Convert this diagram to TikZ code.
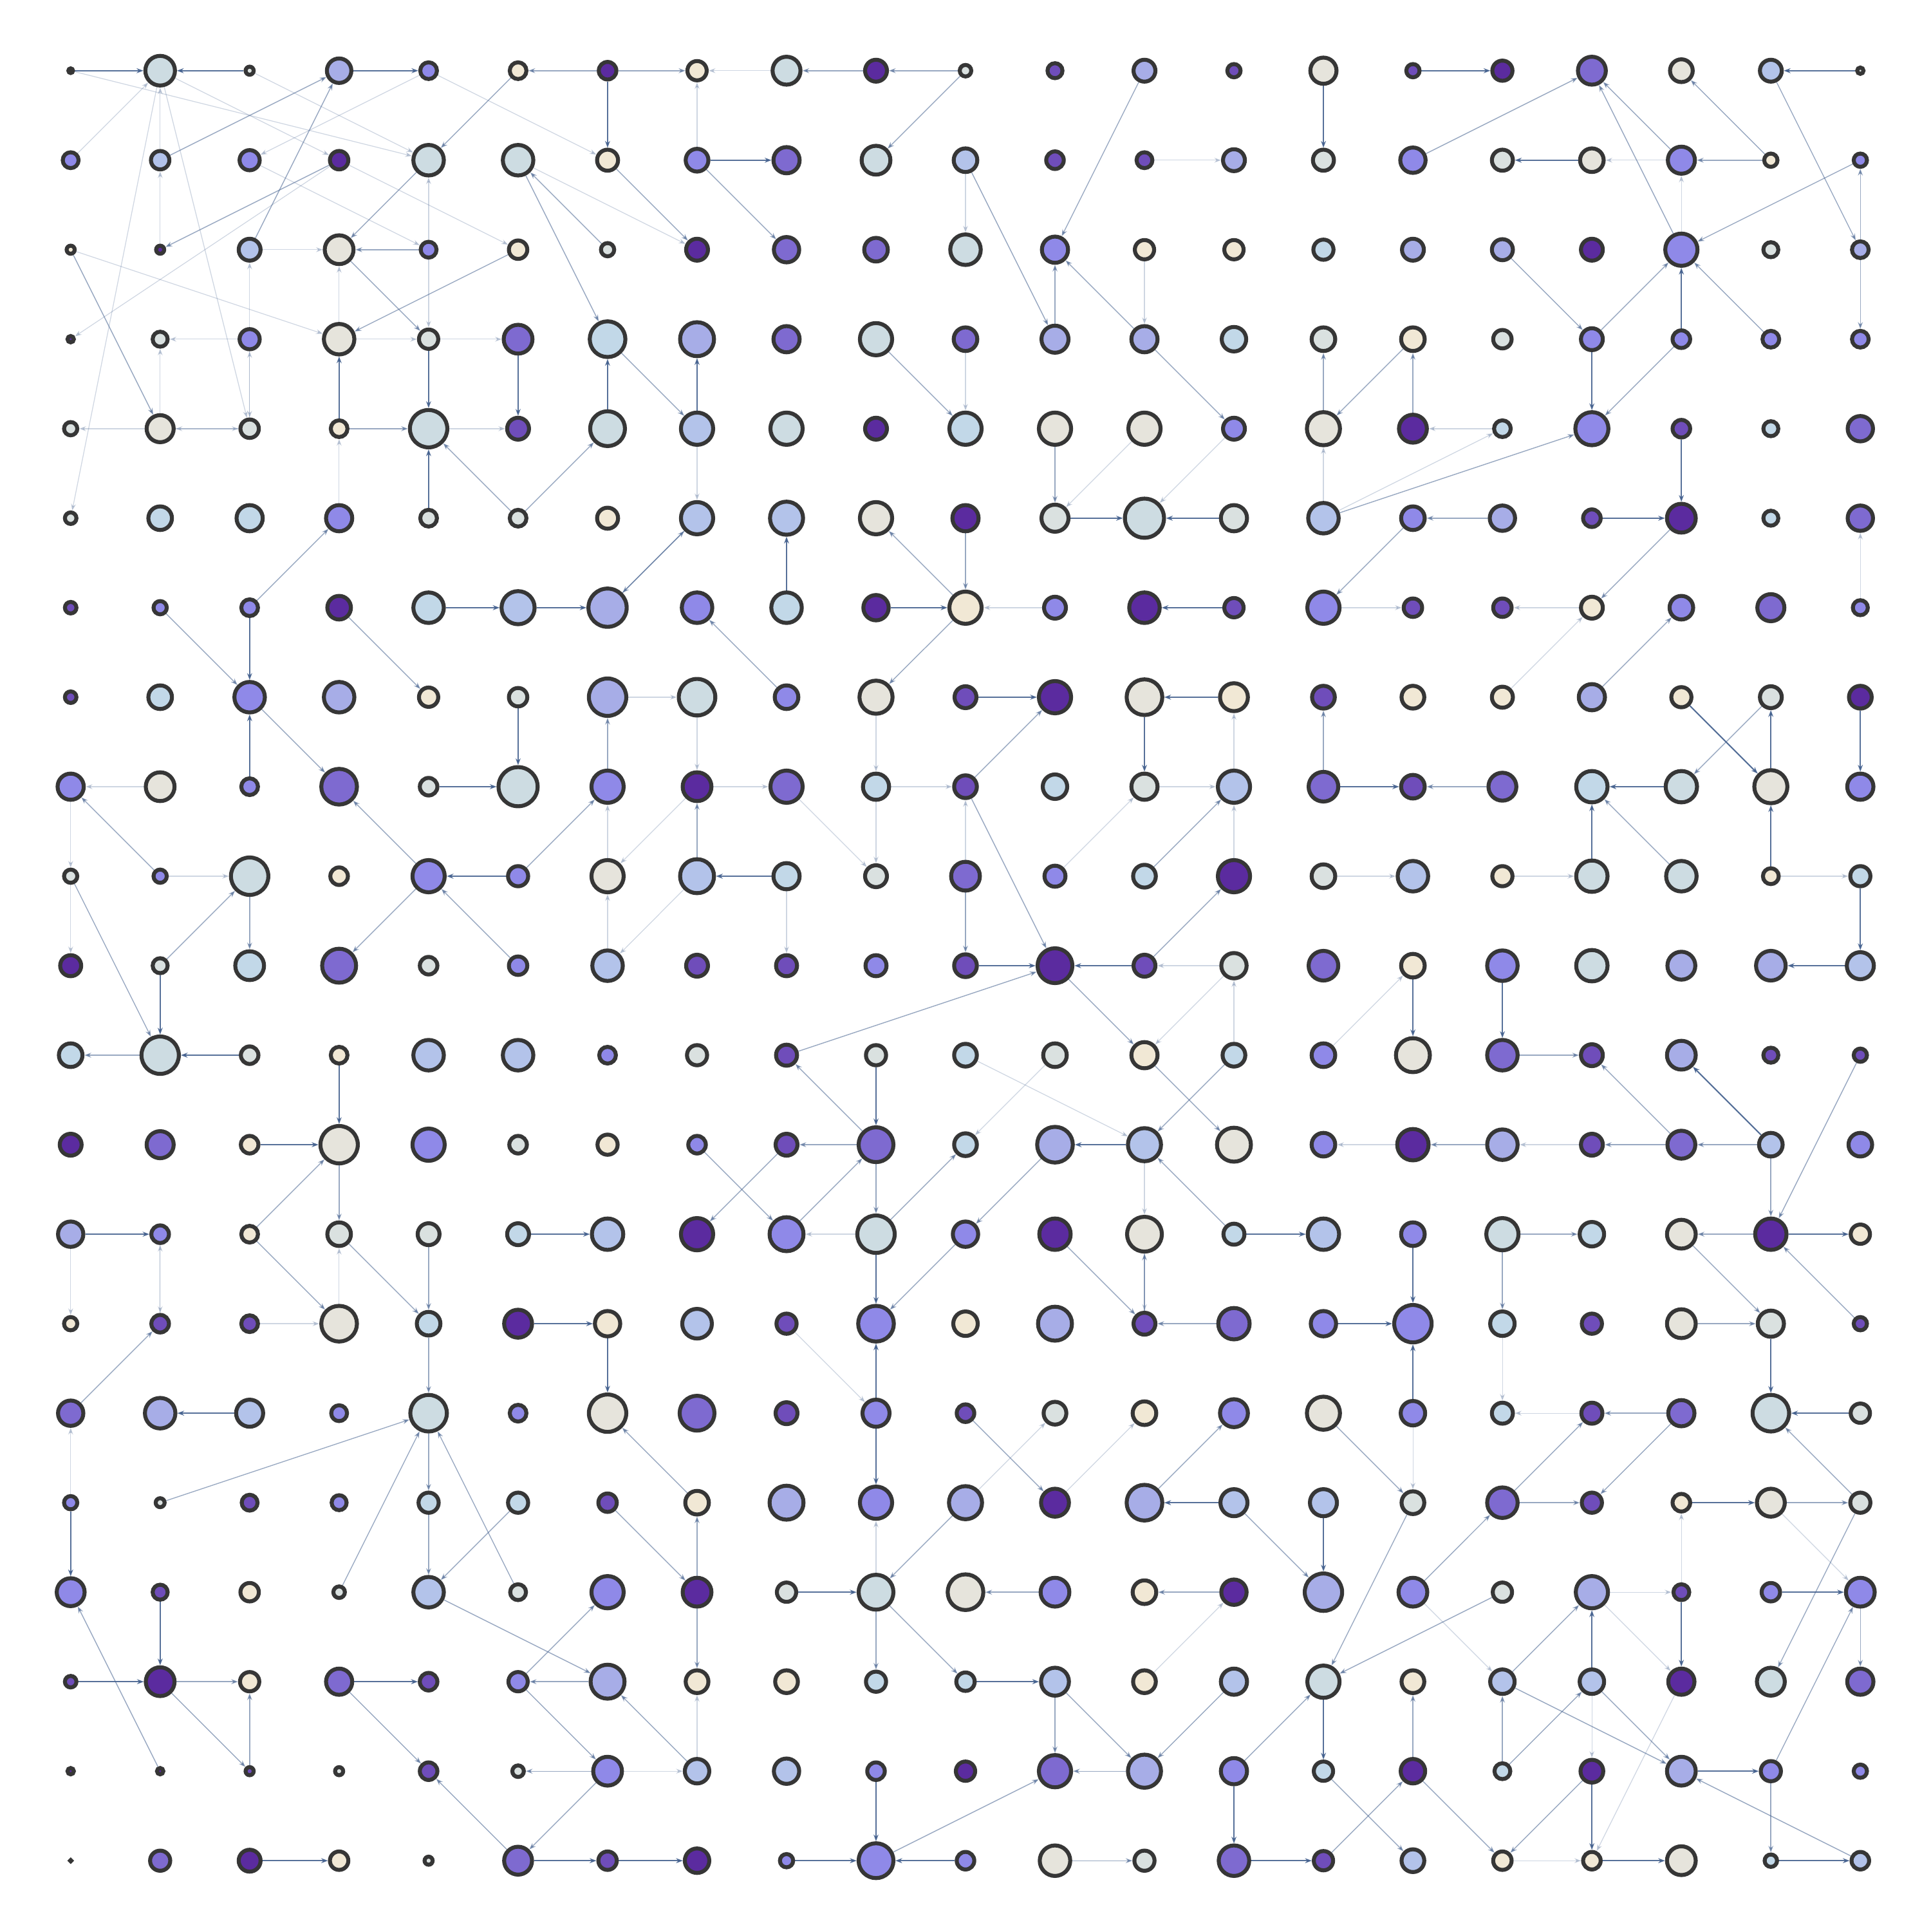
\documentclass[tikz,border=0pt]{standalone}
\usetikzlibrary{arrows.meta,backgrounds}
\definecolor{cD}{HTML}{5B2B9F}
\definecolor{cV}{HTML}{6F4DBA}
\definecolor{cM}{HTML}{7E6AD0}
\definecolor{cP}{HTML}{8F89E8}
\definecolor{cL}{HTML}{A7ADE7}
\definecolor{cK}{HTML}{B3C3EA}
\definecolor{cS}{HTML}{C2D8E8}
\definecolor{cG}{HTML}{CDDCE2}
\definecolor{cW}{HTML}{DAE1E0}
\definecolor{cE}{HTML}{E6E4DC}
\definecolor{cC}{HTML}{F1E8D5}
\definecolor{rimc}{HTML}{363636}
\definecolor{edgec}{HTML}{44618F}
\begin{document}
\begin{tikzpicture}[x=1cm,y=1cm,>={Stealth[length=3pt,width=2.2pt]},
  dot/.style={circle,draw=rimc,line width=1.75pt,inner sep=0pt},
  ed/.style={->,draw=edgec,line width=0.6pt,opacity=0.9},
  em/.style={->,draw=edgec,line width=0.4pt,opacity=0.55},
  ef/.style={->,draw=edgec,line width=0.35pt,opacity=0.26}]
\useasboundingbox (0,0) rectangle (30,-30.01);
\foreach \c/\r [count=\i from 0] in {D/10,G/39,W/14,L/33,P/24,C/24,D/25,C/27,G/37,D/30,W/18,V/22,L/30,V/20,E/35,V/20,D/28,M/37,E/31,K/30,W/12}
  \node[dot,fill=c\c,minimum size={\r*0.13393mm-0.62mm}] (n-\i-0) at ({1.098+1.3902*\i},{-1.098-1.3902*0}) {};
\foreach \c/\r [count=\i from 0] in {P/23,K/26,P/28,D/26,G/40,G/40,C/29,P/31,M/35,G/38,K/32,V/25,V/23,L/30,W/29,P/34,W/29,E/32,P/36,C/20,P/20}
  \node[dot,fill=c\c,minimum size={\r*0.13393mm-0.62mm}] (n-\i-1) at ({1.098+1.3902*\i},{-1.098-1.3902*1}) {};
\foreach \c/\r [count=\i from 0] in {C/14,D/14,K/30,E/38,P/23,C/26,W/20,D/30,M/34,M/32,G/40,P/35,C/27,C/27,S/28,L/30,L/29,D/30,P/42,W/22,L/24}
  \node[dot,fill=c\c,minimum size={\r*0.13393mm-0.62mm}] (n-\i-2) at ({1.098+1.3902*\i},{-1.098-1.3902*2}) {};
\foreach \c/\r [count=\i from 0] in {D/12,W/22,P/28,E/40,W/27,M/38,S/46,L/44,M/35,G/42,M/32,L/36,L/35,S/33,W/32,C/32,W/26,P/30,P/25,P/24,P/24}
  \node[dot,fill=c\c,minimum size={\r*0.13393mm-0.62mm}] (n-\i-3) at ({1.098+1.3902*\i},{-1.098-1.3902*3}) {};
\foreach \c/\r [count=\i from 0] in {W/20,E/36,W/26,C/24,G/48,V/30,G/45,K/42,G/42,D/30,S/42,E/42,E/42,P/30,E/43,D/37,S/24,P/43,V/25,S/22,M/34}
  \node[dot,fill=c\c,minimum size={\r*0.13393mm-0.62mm}] (n-\i-4) at ({1.098+1.3902*\i},{-1.098-1.3902*4}) {};
\foreach \c/\r [count=\i from 0] in {W/18,S/32,S/35,P/35,W/24,W/24,C/29,K/42,K/43,E/42,D/35,W/36,G/50,W/35,K/40,P/32,L/34,V/25,D/38,S/22,M/34}
  \node[dot,fill=c\c,minimum size={\r*0.13393mm-0.62mm}] (n-\i-5) at ({1.098+1.3902*\i},{-1.098-1.3902*5}) {};
\foreach \c/\r [count=\i from 0] in {V/18,P/20,P/24,D/32,S/40,K/43,L/49,P/40,S/40,D/34,C/42,P/30,D/40,V/27,P/42,V/26,V/26,C/30,P/32,M/36,P/22}
  \node[dot,fill=c\c,minimum size={\r*0.13393mm-0.62mm}] (n-\i-6) at ({1.098+1.3902*\i},{-1.098-1.3902*6}) {};
\foreach \c/\r [count=\i from 0] in {V/18,S/32,P/40,L/40,C/27,W/26,L/48,G/47,P/32,E/43,V/30,D/42,E/46,C/37,V/31,C/31,C/29,L/35,C/28,W/30,D/31}
  \node[dot,fill=c\c,minimum size={\r*0.13393mm-0.62mm}] (n-\i-7) at ({1.098+1.3902*\i},{-1.098-1.3902*7}) {};
\foreach \c/\r [count=\i from 0] in {P/35,E/38,P/24,M/46,W/25,G/50,P/42,D/38,M/42,S/35,V/31,S/33,W/35,K/42,M/39,V/32,M/37,S/41,G/41,E/43,P/35}
  \node[dot,fill=c\c,minimum size={\r*0.13393mm-0.62mm}] (n-\i-8) at ({1.098+1.3902*\i},{-1.098-1.3902*8}) {};
\foreach \c/\r [count=\i from 0] in {W/20,P/20,G/48,C/25,P/42,P/28,E/42,K/44,S/35,W/30,M/38,P/29,S/31,D/42,W/32,K/40,C/28,G/41,G/40,C/23,S/28}
  \node[dot,fill=c\c,minimum size={\r*0.13393mm-0.62mm}] (n-\i-9) at ({1.098+1.3902*\i},{-1.098-1.3902*9}) {};
\foreach \c/\r [count=\i from 0] in {D/29,W/22,S/38,M/44,W/25,P/26,K/40,V/30,V/29,P/29,V/31,D/45,V/30,W/34,M/39,C/32,P/40,G/41,L/37,L/39,K/36}
  \node[dot,fill=c\c,minimum size={\r*0.13393mm-0.62mm}] (n-\i-10) at ({1.098+1.3902*\i},{-1.098-1.3902*10}) {};
\foreach \c/\r [count=\i from 0] in {S/32,G/48,W/25,C/24,K/40,K/40,P/24,W/28,V/29,W/28,S/31,W/32,C/35,S/31,P/32,E/44,M/40,V/30,L/38,V/22,V/20}
  \node[dot,fill=c\c,minimum size={\r*0.13393mm-0.62mm}] (n-\i-11) at ({1.098+1.3902*\i},{-1.098-1.3902*11}) {};
\foreach \c/\r [count=\i from 0] in {D/30,M/36,C/25,E/48,P/42,W/25,C/28,P/25,V/30,M/45,S/31,L/46,K/43,E/44,P/32,D/41,L/40,V/30,M/37,K/32,P/32}
  \node[dot,fill=c\c,minimum size={\r*0.13393mm-0.62mm}] (n-\i-12) at ({1.098+1.3902*\i},{-1.098-1.3902*12}) {};
\foreach \c/\r [count=\i from 0] in {L/34,P/25,C/24,W/32,W/30,S/30,K/41,D/42,P/44,G/48,P/34,D/41,E/45,S/29,K/41,P/32,G/42,S/33,E/38,D/41,C/27}
  \node[dot,fill=c\c,minimum size={\r*0.13393mm-0.62mm}] (n-\i-13) at ({1.098+1.3902*\i},{-1.098-1.3902*13}) {};
\foreach \c/\r [count=\i from 0] in {C/20,V/25,V/24,E/46,S/32,D/37,C/34,K/39,V/28,P/46,C/33,L/44,V/30,M/41,P/34,P/48,S/33,V/28,E/38,W/35,V/20}
  \node[dot,fill=c\c,minimum size={\r*0.13393mm-0.62mm}] (n-\i-14) at ({1.098+1.3902*\i},{-1.098-1.3902*14}) {};
\foreach \c/\r [count=\i from 0] in {M/34,L/40,K/36,P/23,G/47,P/24,E/48,M/45,V/30,P/36,V/25,W/31,C/32,P/37,E/43,P/33,S/29,V/29,M/35,G/47,W/27}
  \node[dot,fill=c\c,minimum size={\r*0.13393mm-0.62mm}] (n-\i-15) at ({1.098+1.3902*\i},{-1.098-1.3902*15}) {};
\foreach \c/\r [count=\i from 0] in {P/20,W/15,V/23,P/22,S/28,S/28,V/26,C/32,L/44,P/42,L/43,D/37,L/46,K/36,K/36,W/31,M/40,V/28,C/25,E/37,W/28}
  \node[dot,fill=c\c,minimum size={\r*0.13393mm-0.62mm}] (n-\i-16) at ({1.098+1.3902*\i},{-1.098-1.3902*16}) {};
\foreach \c/\r [count=\i from 0] in {P/37,V/22,C/26,W/18,K/40,W/23,P/42,D/38,W/27,G/45,E/46,P/38,C/32,D/34,L/48,P/38,W/27,L/42,V/23,P/26,P/38}
  \node[dot,fill=c\c,minimum size={\r*0.13393mm-0.62mm}] (n-\i-17) at ({1.098+1.3902*\i},{-1.098-1.3902*17}) {};
\foreach \c/\r [count=\i from 0] in {V/18,D/38,C/27,M/35,V/25,P/27,L/44,C/31,C/31,S/28,S/26,K/37,C/31,K/35,G/42,C/31,K/33,K/33,D/35,G/37,M/35}
  \node[dot,fill=c\c,minimum size={\r*0.13393mm-0.62mm}] (n-\i-18) at ({1.098+1.3902*\i},{-1.098-1.3902*18}) {};
\foreach \c/\r [count=\i from 0] in {D/12,D/12,V/14,W/14,V/25,W/18,P/38,K/33,K/34,P/25,D/27,M/42,L/43,P/35,S/27,D/33,S/23,D/31,L/38,P/28,P/20}
  \node[dot,fill=c\c,minimum size={\r*0.13393mm-0.62mm}] (n-\i-19) at ({1.098+1.3902*\i},{-1.098-1.3902*19}) {};
\foreach \c/\r [count=\i from 0] in {D/6,M/28,D/30,C/26,W/14,M/37,V/26,D/33,P/20,P/45,P/25,E/40,W/28,M/40,V/27,K/31,C/26,C/25,E/38,S/19,K/25}
  \node[dot,fill=c\c,minimum size={\r*0.13393mm-0.62mm}] (n-\i-20) at ({1.098+1.3902*\i},{-1.098-1.3902*20}) {};
\begin{scope}[on background layer]
\fill[white] (0,0) rectangle (30,-30.01);
\foreach \a/\b/\c/\d in {1/4/0/4,2/4/1/4,8/0/7/0,12/1/13/1,18/1/17/1,18/2/18/1,16/4/15/4,14/5/14/4,14/6/15/6,17/6/16/6,20/6/20/5,6/7/7/7,10/9/10/8,13/9/13/8,13/11/13/10,12/12/12/13,14/9/15/9,16/9/17/9,19/9/20/9,17/12/16/12,15/12/14/12,0/13/0/14,2/14/3/14,0/16/0/15,6/19/7/19,9/13/8/13,10/1/10/2,7/1/7/0,11/6/10/6,1/9/2/9,6/9/6/8,6/10/6/9,1/8/0/8,0/9/0/10,7/19/7/18,9/17/9/16,18/17/18/16,16/14/16/15,14/5/16/4,10/3/10/4,7/4/7/5,12/2/12/3,0/8/0/9,2/0/4/1,1/0/3/1,4/0/6/1,5/1/7/2,3/1/5/2,2/1/4/2,1/1/1/0,1/2/1/1,4/2/4/3,2/3/2/2,2/3/2/4,1/4/1/3,3/3/4/3,1/14/1/13,16/7/17/6,12/4/11/5,13/4/12/5,14/11/15/10,8/8/9/9,8/14/9/15,11/16/12/15,10/16/11/15,12/18/13/17,1/13/1/14,3/14/3/13,13/8/13/7,7/8/6/9,7/9/6/10,7/7/7/8,9/7/9/8,12/13/12/14,0/0/4/1,1/0/2/4,1/0/0/5,4/0/2/1,0/1/1/0,3/1/0/3,0/2/3/3,2/3/1/3,4/4/5/4,4/3/5/3,4/2/4/1,3/3/3/2,2/4/2/3,3/5/3/4,2/2/3/2,1/4/2/4,7/8/8/8,9/8/10/8,9/8/9/9,8/9/8/10,12/8/13/8,11/9/12/8,13/10/12/10,11/11/10/12,10/11/12/12,13/10/12/11,15/15/15/16,17/17/18/17,17/17/18/18,18/18/17/20,17/18/17/19,17/15/16/15,19/16/20/17,15/17/16/18,16/20/17/20}
  \draw[ef] (n-\a-\b) -- (n-\c-\d);
\foreach \a/\b/\c/\d in {6/0/5/0,1/1/3/0,2/2/3/0,3/1/1/2,4/1/3/2,0/2/1/4,5/5/4/4,5/5/6/4,1/6/2/7,3/6/4/7,2/6/3/5,6/3/7/4,5/1/6/3,6/2/5/1,6/6/7/5,3/4/4/4,5/2/3/3,4/2/3/2,3/2/4/3,6/0/7/0,9/0/8/0,10/0/9/0,10/0/9/1,7/1/8/2,6/1/7/2,10/1/11/3,11/3/11/2,12/3/11/2,9/3/10/4,11/4/11/5,10/5/10/6,10/6/9/5,8/7/7/6,12/3/13/4,12/0/11/2,7/5/6/6,18/1/17/0,19/1/18/0,19/1/18/1,15/1/17/0,19/0/20/2,20/2/20/1,20/2/20/3,18/2/17/0,16/2/17/3,17/3/18/2,19/3/18/2,20/1/18/2,18/3/17/4,15/3/14/4,14/4/14/3,15/4/15/3,16/5/15/5,15/5/14/6,18/5/17/6,14/5/17/4,2/7/3/8,6/8/6/7,5/9/6/8,1/9/0/8,5/10/4/9,4/9/3/10,4/9/3/8,1/10/2/9,2/9/2/10,0/9/1/11,1/11/0/11,2/13/3/12,3/12/3/13,2/13/3/14,3/13/4/14,10/6/9/7,7/9/7/8,10/9/10/10,10/8/11/7,12/9/13/8,12/10/13/9,11/10/12/11,10/8/11/10,9/12/8/12,12/11/13/12,8/12/7/13,7/12/8/13,8/13/9/12,9/13/10/12,12/14/12/13,11/13/12/14,14/8/14/7,16/8/15/8,18/9/17/8,19/7/18/8,17/7/18/6,16/11/17/11,18/12/17/11,19/12/18/12,18/12/17/12,16/12/15/12,19/12/19/13,20/11/19/13,19/13/18/13,16/13/17/13,16/13/16/14,20/14/19/13,18/13/19/14,4/13/4/14,4/14/4/15,0/15/1/14,4/15/4/16,4/16/4/17,1/16/4/15,3/17/4/15,5/17/4/15,5/16/4/17,1/18/2/18,1/19/0/17,2/19/2/18,6/19/5/20,5/18/6/19,6/18/5/18,5/18/6/17,4/17/6/18,3/18/4/19,6/19/5/19,5/20/4/19,7/16/6/15,6/16/7/17,7/19/6/18,10/13/9/14,13/14/12/14,10/15/11/16,12/16/13/15,7/17/7/16,7/17/7/18,11/17/10/17,13/17/12/17,9/17/9/18,9/17/10/18,11/18/11/19,11/18/12/19,13/18/12/19,12/19/11/19,11/20/12/20,9/20/11/19,13/19/14/18,13/16/14/17,18/14/19/14,18/15/17/15,20/16/19/15,19/16/20/16,16/16/17/16,15/17/16/16,15/16/14/18,14/15/15/16,20/17/20/18,16/18/17/17,16/17/14/18,15/19/15/18,16/19/16/18,20/20/18/19,17/18/18/19,20/16/19/18,19/19/20/17,14/20/15/19,17/19/16/20,14/19/15/20,10/16/9/17,1/18/2/19,5/0/4/1,8/11/11/10,9/12/8/11,13/11/12/12,13/13/12/12,11/12/10/13,9/12/9/13,18/15/17/16,16/16/17/15,16/18/18/19,19/19/19/20,16/19/17/18,15/19/16/20}
  \draw[em] (n-\a-\b) -- (n-\c-\d);
\foreach \a/\b/\c/\d in {0/0/1/0,2/0/1/0,3/0/4/0,6/0/6/1,14/0/14/1,15/0/16/0,20/0/19/0,3/4/3/3,4/3/4/4,5/3/5/4,6/4/6/3,4/5/4/4,4/6/5/6,5/6/6/6,2/6/2/7,7/1/8/1,7/4/7/3,11/5/12/5,13/5/12/5,9/6/10/6,13/6/12/6,8/6/8/5,17/1/16/1,17/3/17/4,18/3/18/2,18/4/18/5,17/5/18/5,2/8/2/7,5/7/5/8,4/8/5/8,5/9/4/9,1/10/1/11,2/11/1/11,3/11/3/12,2/12/3/12,0/13/1/13,5/13/6/13,10/7/11/7,13/7/12/7,12/7/12/8,8/9/7/9,10/10/11/10,12/10/11/10,12/12/11/12,9/11/9/12,13/13/14/13,14/8/15/8,18/8/17/8,17/9/17/8,19/9/19/8,19/8/19/7,20/7/20/8,20/9/20/10,20/10/19/10,15/10/15/11,16/10/16/11,19/13/20/13,15/13/15/14,6/14/6/15,2/15/1/15,0/16/0/17,1/17/1/18,0/18/1/18,2/20/3/20,5/20/6/20,6/20/7/20,9/15/9/14,9/15/9/16,13/16/12/16,8/17/9/17,10/18/11/18,13/19/13/20,9/19/9/20,8/20/9/20,10/20/9/20,14/14/15/14,15/15/15/14,19/14/19/15,20/15/19/15,18/16/19/16,14/16/14/17,18/17/18/18,19/17/20/17,17/18/17/17,14/18/14/19,17/19/17/20,17/20/18/20,18/19/19/19,19/20/20/20,13/20/14/20,5/14/6/14,3/18/4/18,19/12/18/11,18/7/19/8,9/13/9/14}
  \draw[ed] (n-\a-\b) -- (n-\c-\d);
\end{scope}
\end{tikzpicture}
\end{document}
